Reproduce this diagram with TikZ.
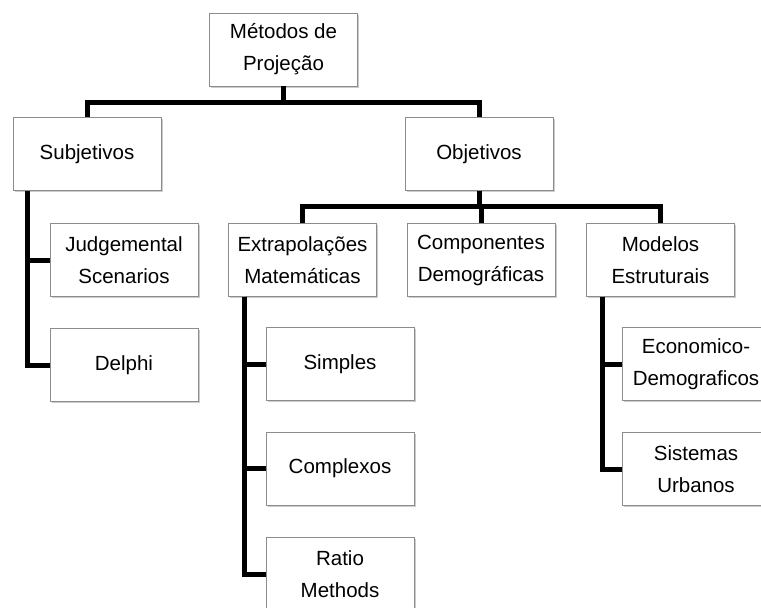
\documentclass[tikz,border=0pt]{standalone}
\usepackage{fontspec}
\setmainfont{Liberation Sans}
\usetikzlibrary{shadows}

\begin{document}
\begin{tikzpicture}[x=1pt, y=-1pt,
    every node/.style={rectangle, draw=black!45, fill=white, minimum width=148pt, minimum height=73pt,
      align=center, font=\fontsize{20.5}{32}\selectfont,
      drop shadow={shadow xshift=1.5pt, shadow yshift=-1.8pt, opacity=0.5, fill=black!40}},
    conn/.style={line width=5pt, black}]
    \clip (0,0) rectangle (761,608);
    \useasboundingbox (0,0) rectangle (761,608);

    \node (root) at (283.5,49.5) {Métodos de\\Projeção};
    \node (subj) at (87,154) {Subjetivos};
    \node (obj) at (479,154) {Objetivos};
    \node (judg) at (124,260) {Judgemental\\Scenarios};
    \node (delphi) at (124,365) {Delphi};
    \node (extr) at (302.5,260) {Extrapolações\\Matemáticas};
    \node (comp) at (481,260) {Componentes\\Demográficas};
    \node (model) at (660.5,260) {Modelos\\Estruturais};
    \node (simp) at (340,364) {Simples};
    \node (cplx) at (340,468.5) {Complexos};
    \node (ratio) at (340,574) {Ratio\\Methods};
    \node (econ) at (696,364) {Economico-\\Demograficos};
    \node (sist) at (696,469) {Sistemas\\Urbanos};

    \draw[conn] (root.south) -- ++(0,16) -| (subj.north);
    \draw[conn] (root.south) -- ++(0,16) -| (obj.north);
    \draw[conn] ([xshift=15pt]subj.south west) |- (judg.west);
    \draw[conn] ([xshift=15pt]subj.south west) |- (delphi.west);
    \draw[conn] (obj.south) -- ++(0,16) -| (extr.north);
    \draw[conn] (obj.south) -- ++(0,16) -| (comp.north);
    \draw[conn] (obj.south) -- ++(0,16) -| (model.north);
    \draw[conn] ([xshift=16pt]extr.south west) |- (simp.west);
    \draw[conn] ([xshift=16pt]extr.south west) |- (cplx.west);
    \draw[conn] ([xshift=16pt]extr.south west) |- (ratio.west);
    \draw[conn] ([xshift=16pt]model.south west) |- (econ.west);
    \draw[conn] ([xshift=16pt]model.south west) |- (sist.west);
\end{tikzpicture}
\end{document}
